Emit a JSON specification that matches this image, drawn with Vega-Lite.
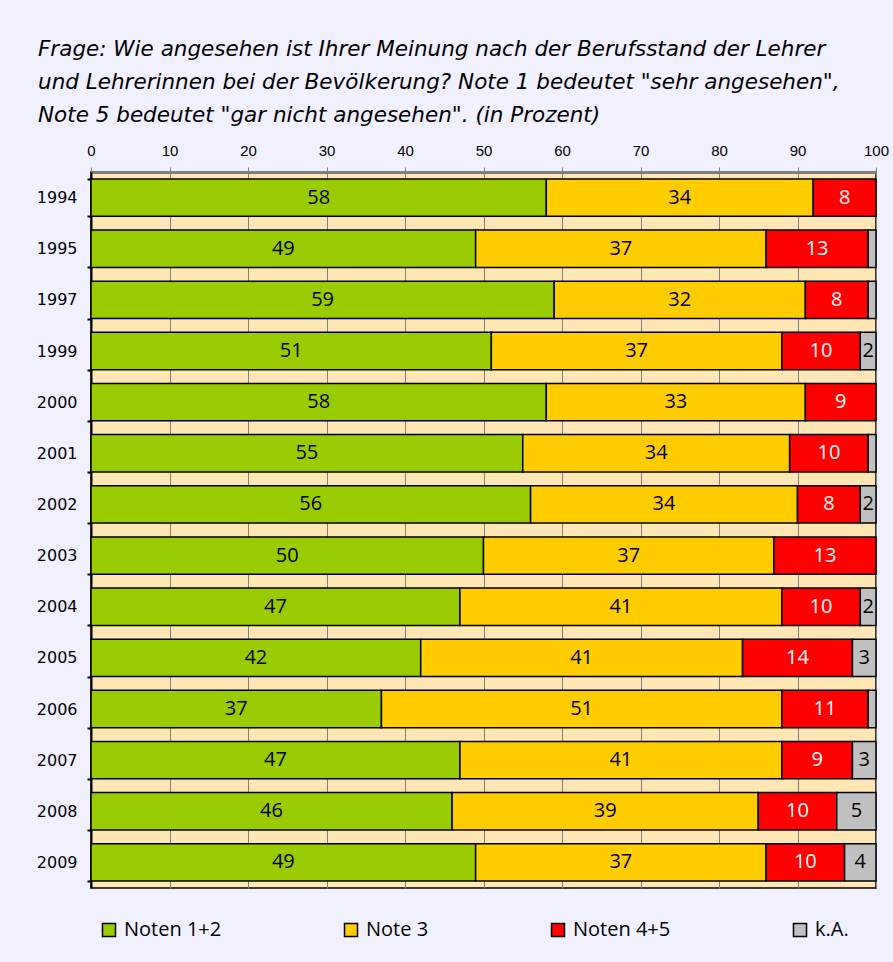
{
  "$schema": "https://vega.github.io/schema/vega-lite/v6.json",
  "width": 785,
  "height": 716,
  "autosize": {"type": "none"},
  "padding": {"left": 91, "top": 172, "right": 17, "bottom": 74},
  "background": "#F0F0FE",
  "title": {
    "text": ["Frage: Wie angesehen ist Ihrer Meinung nach der Berufsstand der Lehrer", "und Lehrerinnen bei der Bevölkerung? Note 1 bedeutet \"sehr angesehen\",", "Note 5 bedeutet \"gar nicht angesehen\". (in Prozent)"],
    "anchor": "start",
    "frame": "group",
    "dx": -53,
    "font": "DejaVu Sans",
    "fontStyle": "italic",
    "fontWeight": "normal",
    "fontSize": 21.5,
    "lineHeight": 33,
    "color": "black",
    "offset": 17
  },
  "config": {
    "view": {"fill": "#FEE7B4", "stroke": "black", "strokeWidth": 1.5}
  },
  "data": {
    "values": [
      {"year": "1994", "cat": "Noten 1+2", "o": 1, "v": 58},
      {"year": "1994", "cat": "Note 3", "o": 2, "v": 34},
      {"year": "1994", "cat": "Noten 4+5", "o": 3, "v": 8},
      {"year": "1995", "cat": "Noten 1+2", "o": 1, "v": 49},
      {"year": "1995", "cat": "Note 3", "o": 2, "v": 37},
      {"year": "1995", "cat": "Noten 4+5", "o": 3, "v": 13},
      {"year": "1995", "cat": "k.A.", "o": 4, "v": 1},
      {"year": "1997", "cat": "Noten 1+2", "o": 1, "v": 59},
      {"year": "1997", "cat": "Note 3", "o": 2, "v": 32},
      {"year": "1997", "cat": "Noten 4+5", "o": 3, "v": 8},
      {"year": "1997", "cat": "k.A.", "o": 4, "v": 1},
      {"year": "1999", "cat": "Noten 1+2", "o": 1, "v": 51},
      {"year": "1999", "cat": "Note 3", "o": 2, "v": 37},
      {"year": "1999", "cat": "Noten 4+5", "o": 3, "v": 10},
      {"year": "1999", "cat": "k.A.", "o": 4, "v": 2},
      {"year": "2000", "cat": "Noten 1+2", "o": 1, "v": 58},
      {"year": "2000", "cat": "Note 3", "o": 2, "v": 33},
      {"year": "2000", "cat": "Noten 4+5", "o": 3, "v": 9},
      {"year": "2001", "cat": "Noten 1+2", "o": 1, "v": 55},
      {"year": "2001", "cat": "Note 3", "o": 2, "v": 34},
      {"year": "2001", "cat": "Noten 4+5", "o": 3, "v": 10},
      {"year": "2001", "cat": "k.A.", "o": 4, "v": 1},
      {"year": "2002", "cat": "Noten 1+2", "o": 1, "v": 56},
      {"year": "2002", "cat": "Note 3", "o": 2, "v": 34},
      {"year": "2002", "cat": "Noten 4+5", "o": 3, "v": 8},
      {"year": "2002", "cat": "k.A.", "o": 4, "v": 2},
      {"year": "2003", "cat": "Noten 1+2", "o": 1, "v": 50},
      {"year": "2003", "cat": "Note 3", "o": 2, "v": 37},
      {"year": "2003", "cat": "Noten 4+5", "o": 3, "v": 13},
      {"year": "2004", "cat": "Noten 1+2", "o": 1, "v": 47},
      {"year": "2004", "cat": "Note 3", "o": 2, "v": 41},
      {"year": "2004", "cat": "Noten 4+5", "o": 3, "v": 10},
      {"year": "2004", "cat": "k.A.", "o": 4, "v": 2},
      {"year": "2005", "cat": "Noten 1+2", "o": 1, "v": 42},
      {"year": "2005", "cat": "Note 3", "o": 2, "v": 41},
      {"year": "2005", "cat": "Noten 4+5", "o": 3, "v": 14},
      {"year": "2005", "cat": "k.A.", "o": 4, "v": 3},
      {"year": "2006", "cat": "Noten 1+2", "o": 1, "v": 37},
      {"year": "2006", "cat": "Note 3", "o": 2, "v": 51},
      {"year": "2006", "cat": "Noten 4+5", "o": 3, "v": 11},
      {"year": "2006", "cat": "k.A.", "o": 4, "v": 1},
      {"year": "2007", "cat": "Noten 1+2", "o": 1, "v": 47},
      {"year": "2007", "cat": "Note 3", "o": 2, "v": 41},
      {"year": "2007", "cat": "Noten 4+5", "o": 3, "v": 9},
      {"year": "2007", "cat": "k.A.", "o": 4, "v": 3},
      {"year": "2008", "cat": "Noten 1+2", "o": 1, "v": 46},
      {"year": "2008", "cat": "Note 3", "o": 2, "v": 39},
      {"year": "2008", "cat": "Noten 4+5", "o": 3, "v": 10},
      {"year": "2008", "cat": "k.A.", "o": 4, "v": 5},
      {"year": "2009", "cat": "Noten 1+2", "o": 1, "v": 49},
      {"year": "2009", "cat": "Note 3", "o": 2, "v": 37},
      {"year": "2009", "cat": "Noten 4+5", "o": 3, "v": 10},
      {"year": "2009", "cat": "k.A.", "o": 4, "v": 4}
    ]
  },
  "encoding": {
    "y": {
      "field": "year",
      "type": "nominal",
      "sort": "ascending",
      "scale": {"paddingInner": 0.27, "paddingOuter": 0.135},
      "axis": {
        "title": null,
        "domainColor": "black",
        "domainWidth": 2,
        "tickColor": "black",
        "tickWidth": 2,
        "tickSize": 4,
        "tickBand": "extent",
        "labelFont": "DejaVu Sans",
        "labelFontSize": 16,
        "labelColor": "black",
        "labelPadding": 10
      }
    }
  },
  "layer": [
    {
      "mark": {"type": "bar", "stroke": "black", "strokeWidth": 1.5},
      "encoding": {
        "x": {
          "field": "v",
          "type": "quantitative",
          "stack": "zero",
          "scale": {"domain": [0, 100], "nice": false},
          "axis": {
            "orient": "top",
            "values": [0, 10, 20, 30, 40, 50, 60, 70, 80, 90, 100],
            "title": null,
            "domainColor": "#808080",
            "domainWidth": 3,
            "tickColor": "#808080",
            "tickSize": 5,
            "tickWidth": 1,
            "labelFont": "Liberation Sans",
            "labelFontSize": 15,
            "labelColor": "black",
            "labelFlush": false,
            "labelPadding": 9,
            "grid": true,
            "gridColor": "#808080",
            "gridWidth": 1
          }
        },
        "color": {
          "field": "cat",
          "type": "nominal",
          "scale": {"domain": ["Noten 1+2", "Note 3", "Noten 4+5", "k.A."], "range": ["#99CC00", "#FFCC00", "#FF0000", "#C0C0C0"]},
          "legend": {
            "orient": "none",
            "legendX": 8,
            "legendY": 748,
            "direction": "horizontal",
            "columns": 4,
            "title": null,
            "symbolType": "square",
            "symbolSize": 169,
            "symbolStrokeColor": "black",
            "symbolStrokeWidth": 1.5,
            "labelFont": "Open Sans",
            "labelFontSize": 20,
            "labelColor": "black",
            "labelOffset": 5,
            "columnPadding": 119
          }
        },
        "order": {"field": "o", "type": "quantitative"}
      }
    },
    {
      "transform": [{"filter": "datum.v >= 2"}],
      "mark": {"type": "text", "font": "Open Sans", "fontSize": 20, "baseline": "middle"},
      "encoding": {
        "x": {"field": "v", "type": "quantitative", "stack": "zero", "bandPosition": 0.5},
        "detail": {"field": "cat", "type": "nominal"},
        "order": {"field": "o", "type": "quantitative"},
        "text": {"field": "v", "type": "quantitative"},
        "color": {"condition": {"test": "datum.cat === 'Noten 4+5'", "value": "white"}, "value": "black"}
      }
    }
  ]
}
